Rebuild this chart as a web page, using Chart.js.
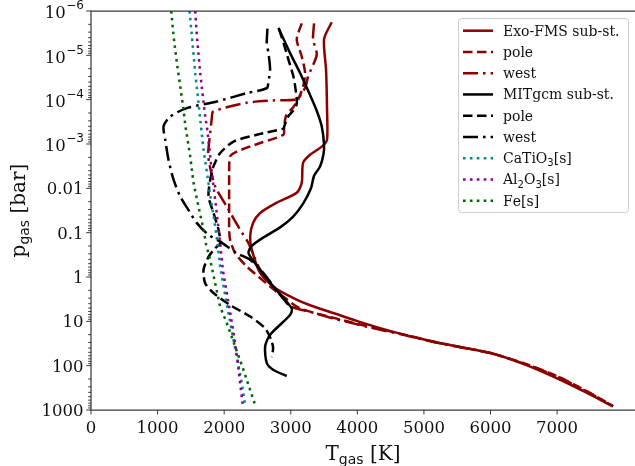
<!DOCTYPE html>
<html>
<head>
<meta charset="utf-8">
<script src="https://cdn.jsdelivr.net/npm/chart.js@4/dist/chart.umd.min.js"></script>
<style>
html,body{margin:0;padding:0;background:#fff;}
canvas{display:block;}
</style>
</head>
<body>
<canvas id="c" width="635" height="466"></canvas>
<script>
// ---------------- DATA ----------------
const exoSubT = [3615,3500,3530,3545,3545,3480,3290,3185,3165,3090,2790,2540,2435,2390,2415,2540,2735,3080,3300,3640,4010,4500,5000,5500,6000,6500,7000,7450,7835];
const exoSubP = [1.8e-6,4.3e-6,2.1e-5,1.7e-4,8.0e-4,1.1e-3,1.75e-3,2.65e-3,7.5e-3,1.26e-2,2.1e-2,3.6e-2,6.0e-2,0.122,0.244,0.81,1.65,3.2,4.4,6.5,10,16.6,25.7,37,52,92,193,413,834];

const exoPoleT = [3165,3090,3165,3215,3185,3110,3035,2930,2900,2890,2540,2190,2090,2075,2075,2075,2090,2165,2340,2540,2690,2890,3140,3640,4140,4740,5200,5700,6000,6500,7000,7450,7840];
const exoPoleP = [1.9e-6,4.4e-6,1.06e-5,2.5e-5,5.1e-5,1.0e-4,1.5e-4,2.3e-4,4.3e-4,6.2e-4,9.5e-4,1.48e-3,1.9e-3,4.5e-3,2.16e-2,8.6e-2,0.146,0.29,0.58,1.06,1.65,2.8,5.1,8.3,12.8,20.5,30,42,52,88,172,380,813];

const exoWestT = [3350,3335,3390,3260,3215,3090,2735,2340,1835,1815,1790,1760,1775,1865,2040,2240,2365,2540,2790,2990,3290,3640,4140,4740,5200,5700,6000,6500,7000,7450,7840];
const exoWestP = [1.9e-6,4.4e-6,9.7e-6,3.0e-5,5.4e-5,9.7e-5,1.04e-4,1.17e-4,1.85e-4,2.6e-4,5.6e-4,1.58e-3,2.7e-3,9.1e-3,2.6e-2,8.6e-2,0.173,0.69,1.95,4.5,6.1,8.6,13.2,21,30.5,42.5,52,90,174,385,815];

const mitSubT = [2815,2990,3140,3275,3390,3465,3500,3490,3440,3350,3305,3190,3040,2840,2590,2415,2365,2540,2740,3015,2990,2690,2615,2640,2740,2940];
const mitSubP = [2.4e-6,8.9e-6,2.5e-5,7.0e-5,1.78e-4,4.0e-4,1.04e-3,1.75e-3,3.2e-3,5.2e-3,9.8e-3,2.16e-2,4.3e-2,7.6e-2,0.128,0.199,0.29,0.69,1.65,5.1,7.2,20,37,88,125,171];

const mitPoleT = [2825,2900,2975,3040,3080,3090,3035,2960,2900,2890,2490,2140,1940,1840,1790,1765,1840,1915,1940,1865,1765,1690,1715,1840,2090,2390,2615,2705,2735,2715];
const mitPoleP = [2.6e-6,5.8e-6,1.4e-5,3.0e-5,7.0e-5,1.24e-4,1.78e-4,2.4e-4,4.1e-4,4.5e-4,6.2e-4,8.8e-4,1.6e-3,3.2e-3,6.4e-3,1.53e-2,3.6e-2,8.6e-2,0.173,0.224,0.35,0.69,1.38,2.3,4.3,7.8,14.3,26,40,64];

const mitWestT = [2650,2640,2665,2690,2665,2640,2340,1890,1440,1190,1090,1115,1165,1240,1340,1465,1590,1765,1940,2190,2390,2590,2780,2990];
const mitWestP = [2.5e-6,5.3e-6,8.9e-6,2.1e-5,3.9e-5,5.5e-5,7.1e-5,1.1e-4,1.55e-4,2.4e-4,4.0e-4,8.0e-4,2.3e-3,6.4e-3,1.53e-2,3.1e-2,6.1e-2,0.112,0.159,0.29,0.41,0.82,1.95,4.7];

const caTiO3T = [1480,1515,1565,1605,1640,1690,1750,1800,1850,1890,1940,2000,2065,2130,2200,2265,2315];
const caTiO3P = [1e-6,3.7e-6,2.5e-5,8.5e-5,2.8e-4,1.33e-3,5.4e-3,1.8e-2,5.1e-2,0.133,0.58,1.95,6.6,22,74,250,770];

const al2O3T = [1565,1590,1640,1680,1715,1740,1780,1815,1865,1900,1940,1980,2040,2100,2150,2200,2240,2280];
const al2O3P = [1e-6,3.7e-6,2.5e-5,8.5e-5,2.4e-4,4.0e-4,1.33e-3,4.5e-3,1.8e-2,5.1e-2,0.173,0.69,2.3,7.8,22,74,250,770];

const feT = [1205,1240,1290,1340,1390,1415,1490,1540,1615,1690,1730,1790,1865,1940,2040,2165,2290,2465];
const feP = [1e-6,3.7e-6,1.5e-5,5.0e-5,1.7e-4,3.7e-4,1.9e-3,7.6e-3,2.6e-2,8.6e-2,0.188,0.41,1.38,4.7,11,37,125,770];

const seriesLabels = ['Exo-FMS sub-st.','pole','west','MITgcm sub-st.','pole','west','CaTiO₃[s]','Al₂O₃[s]','Fe[s]'];
const xTickValues = [0,1000,2000,3000,4000,5000,6000,7000];
const xTickLabels = ['0','1000','2000','3000','4000','5000','6000','7000'];
const yTickValues = [1e-6,1e-5,1e-4,1e-3,0.01,0.1,1,10,100,1000];
const yTickLabels = ['10⁻⁶','10⁻⁵','10⁻⁴','10⁻³','0.01','0.1','1','10','100','1000'];
const xTitle = ['T','gas',' [K]'];
const yTitle = ['p','gas',' [bar]'];

// ---------------- STYLE ----------------
const RED = '#8b0000', BLK = '#000000', TEAL = '#008b8b', PURP = '#8b008b', GRN = '#006400';
const LW = 2.5;
const DASH = [9.5, 4.5], DASHDOT = [15, 5, 2.6, 5], DOT = [2.6, 4.3];
const SERIF = '"DejaVu Serif", serif', SANS = '"DejaVu Sans", sans-serif';
const AXIS = '#3a3a3a', TXT = '#111';

const zip = (T, P) => T.map((t, i) => ({x: t, y: P[i]}));
const styles = [
  [RED, []], [RED, DASH], [RED, DASHDOT],
  [BLK, []], [BLK, DASH], [BLK, DASHDOT],
  [TEAL, DOT], [PURP, DOT], [GRN, DOT]
];
const series = [
  zip(exoSubT, exoSubP), zip(exoPoleT, exoPoleP), zip(exoWestT, exoWestP),
  zip(mitSubT, mitSubP), zip(mitPoleT, mitPoleP), zip(mitWestT, mitWestP),
  zip(caTiO3T, caTiO3P), zip(al2O3T, al2O3P), zip(feT, feP)
];
const datasets = series.map((d, i) => ({
  label: seriesLabels[i],
  data: d,
  borderColor: styles[i][0],
  borderDash: styles[i][1],
  borderWidth: LW,
  borderCapStyle: 'butt',
  borderJoinStyle: 'round',
  pointRadius: 0,
  fill: false,
  tension: i >= 6 ? 0 : 0.25,
  order: 20 - i
}));

const supMap = {'⁻':'−','⁰':'0','¹':'1','²':'2','³':'3','⁴':'4','⁵':'5','⁶':'6','⁷':'7','⁸':'8','⁹':'9'};
const subMap = {'₀':'0','₁':'1','₂':'2','₃':'3','₄':'4','₅':'5','₆':'6','₇':'7','₈':'8','₉':'9'};

function drawRich(ctx, text, x, y, size, subSize) {
  let cx = x;
  for (const ch of text) {
    if (subMap[ch]) {
      ctx.font = subSize + 'px ' + SANS;
      ctx.fillText(subMap[ch], cx, y + size * 0.22);
      cx += ctx.measureText(subMap[ch]).width;
    } else {
      ctx.font = size + 'px ' + SERIF;
      ctx.fillText(ch, cx, y);
      cx += ctx.measureText(ch).width;
    }
  }
}

const mplPlugin = {
  id: 'mpl',
  afterDraw(chart) {
    const ctx = chart.ctx, ca = chart.chartArea;
    const xs = chart.scales.x, ys = chart.scales.y;
    ctx.save();
    // spines
    ctx.strokeStyle = AXIS; ctx.lineWidth = 1.25; ctx.setLineDash([]);
    ctx.beginPath();
    ctx.moveTo(ca.right + 2, ca.top); ctx.lineTo(ca.left, ca.top);
    ctx.lineTo(ca.left, ca.bottom); ctx.lineTo(ca.right + 2, ca.bottom);
    ctx.stroke();
    // y ticks
    ctx.lineWidth = 1;
    for (let e = -6; e <= 3; e++) {
      const py = ys.getPixelForValue(Math.pow(10, e));
      ctx.beginPath(); ctx.moveTo(ca.left - 4.8, py); ctx.lineTo(ca.left, py); ctx.stroke();
      if (e < 3) {
        for (let m = 2; m <= 9; m++) {
          const pm = ys.getPixelForValue(m * Math.pow(10, e));
          ctx.beginPath(); ctx.moveTo(ca.left - 2.8, pm); ctx.lineTo(ca.left, pm); ctx.stroke();
        }
      }
    }
    // x ticks
    xTickValues.forEach(v => {
      const px = xs.getPixelForValue(v);
      ctx.beginPath(); ctx.moveTo(px, ca.bottom); ctx.lineTo(px, ca.bottom + 4.5); ctx.stroke();
    });
    // x tick labels
    ctx.fillStyle = TXT; ctx.textBaseline = 'alphabetic';
    ctx.font = '16.5px ' + SERIF; ctx.textAlign = 'center';
    xTickValues.forEach((v, i) => {
      ctx.fillText(xTickLabels[i], xs.getPixelForValue(v), ca.bottom + 23);
    });
    // y tick labels
    ctx.textAlign = 'left';
    const rightX = ca.left - 7.5;
    yTickValues.forEach((v, i) => {
      const py = ys.getPixelForValue(v);
      const lab = yTickLabels[i];
      let base = '', sup = '';
      for (const ch of lab) { if (supMap[ch]) sup += supMap[ch]; else base += ch; }
      ctx.font = '16.5px ' + SERIF;
      const wb = ctx.measureText(base).width;
      let ws = 0;
      if (sup) { ctx.font = '12px ' + SANS; ws = ctx.measureText(sup).width; }
      const x0 = rightX - wb - ws;
      ctx.font = '16.5px ' + SERIF;
      if (sup) {
        ctx.fillText(base, x0, py + 7.2);
        ctx.font = '12px ' + SANS;
        ctx.fillText(sup, x0 + wb + 0.5, py - 1.8);
      } else {
        ctx.fillText(base, x0, py + 6);
      }
    });
    // axis titles
    function titleWidth(parts) {
      ctx.font = '20px ' + SERIF; let w = ctx.measureText(parts[0]).width + ctx.measureText(parts[2]).width;
      ctx.font = '14px ' + SANS; w += ctx.measureText(parts[1]).width; return w;
    }
    function drawTitle(parts, cx, by) {
      const w = titleWidth(parts);
      let x = cx - w / 2;
      ctx.font = '20px ' + SERIF; ctx.fillText(parts[0], x, by); x += ctx.measureText(parts[0]).width;
      ctx.font = '14px ' + SANS; ctx.fillText(parts[1], x, by + 4); x += ctx.measureText(parts[1]).width;
      ctx.font = '20px ' + SERIF; ctx.fillText(parts[2], x, by);
    }
    ctx.textAlign = 'left';
    drawTitle(xTitle, (ca.left + ca.right) / 2, 459.5);
    ctx.save();
    ctx.translate(24.5, (ca.top + ca.bottom) / 2);
    ctx.rotate(-Math.PI / 2);
    drawTitle(yTitle, 0, 0);
    ctx.restore();

    // legend
    const lx = 458.5, ly = 18.5, lw = 170, lh = 194, r = 3;
    ctx.beginPath();
    ctx.moveTo(lx + r, ly); ctx.lineTo(lx + lw - r, ly); ctx.arcTo(lx + lw, ly, lx + lw, ly + r, r);
    ctx.lineTo(lx + lw, ly + lh - r); ctx.arcTo(lx + lw, ly + lh, lx + lw - r, ly + lh, r);
    ctx.lineTo(lx + r, ly + lh); ctx.arcTo(lx, ly + lh, lx, ly + lh - r, r);
    ctx.lineTo(lx, ly + r); ctx.arcTo(lx, ly, lx + r, ly, r); ctx.closePath();
    ctx.fillStyle = 'rgba(255,255,255,0.8)'; ctx.fill();
    ctx.strokeStyle = '#cccccc'; ctx.lineWidth = 1; ctx.stroke();
    datasets.forEach((ds, i) => {
      const yy = 30.7 + i * 21.25;
      ctx.strokeStyle = ds.borderColor; ctx.lineWidth = LW; ctx.lineCap = 'butt';
      ctx.setLineDash(ds.borderDash);
      ctx.beginPath(); ctx.moveTo(463, yy); ctx.lineTo(493, yy); ctx.stroke();
      ctx.setLineDash([]);
      ctx.fillStyle = TXT; ctx.textAlign = 'left';
      drawRich(ctx, ds.label, 503, yy + 5, 14, 10);
    });
    ctx.restore();
  }
};

new Chart(document.getElementById('c'), {
  type: 'line',
  data: { datasets },
  options: {
    responsive: false,
    animation: false,
    parsing: true,
    layout: { padding: { top: 11, right: 0, left: 0, bottom: 0 } },
    plugins: { legend: { display: false }, tooltip: { enabled: false } },
    scales: {
      x: {
        type: 'linear', min: 0, max: 8170,
        grid: { display: false, drawTicks: false },
        border: { display: false },
        ticks: { display: false },
        afterFit: s => { s.height = 56; }
      },
      y: {
        type: 'logarithmic', min: 1e-6, max: 1000, reverse: true,
        grid: { display: false, drawTicks: false },
        border: { display: false },
        ticks: { display: false },
        afterFit: s => { s.width = 91; }
      }
    }
  },
  plugins: [mplPlugin]
});
</script>
</body>
</html>
